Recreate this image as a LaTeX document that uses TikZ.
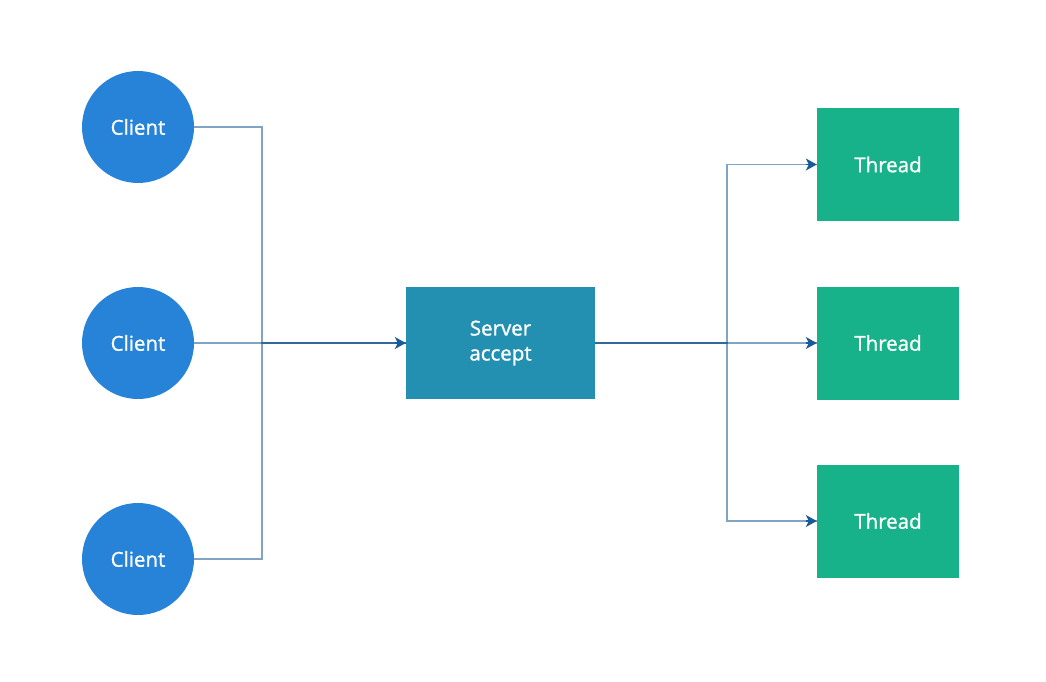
\documentclass[tikz,border=0pt]{standalone}
\usepackage{fontspec}
\setmainfont{Open Sans}[BoldFont={Open Sans}, BoldFeatures={FakeBold=1.2}]
\usetikzlibrary{arrows.meta}
\definecolor{clientblue}{RGB}{39,131,215}
\definecolor{serverteal}{RGB}{35,144,178}
\definecolor{threadgreen}{RGB}{24,178,138}
\definecolor{wire}{RGB}{26,90,150}
\tikzset{
  client/.style={circle, fill=clientblue, minimum size=112pt, inner sep=0pt,
    text=white, font=\fontsize{20.5}{24}\bfseries},
  server/.style={rectangle, fill=serverteal, minimum width=189pt, minimum height=112pt,
    text=white, align=center, font=\fontsize{20.5}{25}\bfseries},
  worker/.style={rectangle, fill=threadgreen, minimum width=142pt, minimum height=113pt,
    text=white, font=\fontsize{20.5}{24}\bfseries},
  link/.style={draw=wire, line width=1.3pt, draw opacity=0.55},
  tip/.style={draw=wire, line width=1.3pt,
    -{Stealth[length=11pt,width=12pt,inset=3pt]}}
}
\begin{document}
\begin{tikzpicture}[x=1pt,y=-1pt]
  \useasboundingbox (0,0) rectangle (1046,682);
  % clients
  \node[client] (c1) at (138,127) {Client};
  \node[client] (c2) at (138,343) {Client};
  \node[client] (c3) at (138,559) {Client};
  % server
  \node[server] (srv) at (500.5,343) {Server\\accept};
  % worker threads
  \node[worker] (t1) at (888,164.5) {Thread};
  \node[worker] (t2) at (888,343) {Thread};
  \node[worker] (t3) at (888,521) {Thread};
  % junction points
  \coordinate (jl) at (262,343);
  \coordinate (jr) at (727,343);
  % client side wires
  \draw[link] (c1.east) -| (jl) -- (srv.west);
  \draw[link] (c2.east) -- (srv.west);
  \draw[link] (c3.east) -| (jl) -- (srv.west);
  % thread side wires
  \draw[link] (srv.east) -- (jr) |- (t1.west);
  \draw[link] (srv.east) -- (t2.west);
  \draw[link] (srv.east) -- (jr) |- (t3.west);
  % arrow heads
  \draw[tip] ([xshift=-11pt]srv.west) -- (srv.west);
  \draw[tip] ([xshift=-11pt]t1.west) -- (t1.west);
  \draw[tip] ([xshift=-11pt]t2.west) -- (t2.west);
  \draw[tip] ([xshift=-11pt]t3.west) -- (t3.west);
\end{tikzpicture}
\end{document}
